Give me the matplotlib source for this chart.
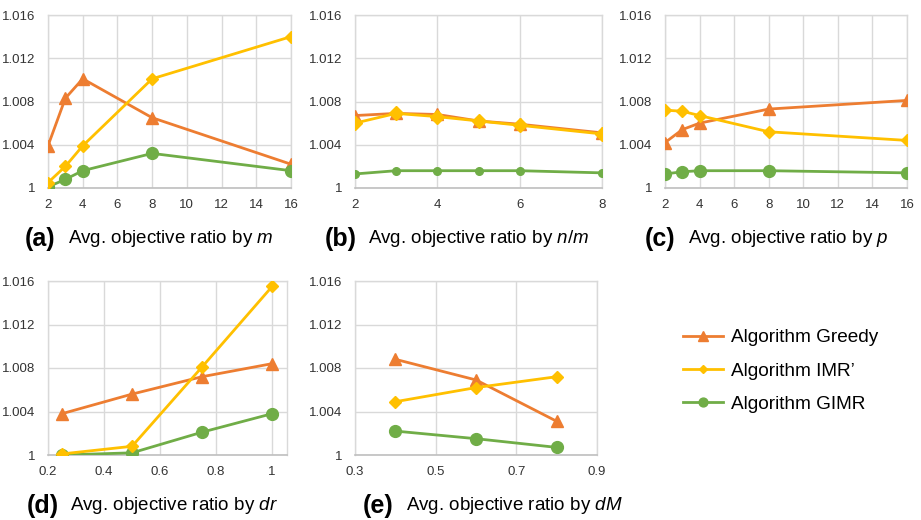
import matplotlib
matplotlib.use("Agg")
import matplotlib.pyplot as plt
from matplotlib.ticker import FuncFormatter

plt.rcParams['font.family'] = ['Liberation Sans', 'DejaVu Sans']
plt.rcParams['mathtext.fontset'] = 'custom'
plt.rcParams['mathtext.rm'] = 'Liberation Sans'
plt.rcParams['mathtext.it'] = 'Liberation Sans:italic'

# colours of the three algorithms
c_greedy = '#ED7D31'
c_imr = '#FFC000'
c_gimr = '#70AD47'
grid_col = '#D9D9D9'

# (a) by m
x_a = [2, 3, 4, 8, 16]
greedy_a = [1.0039, 1.0083, 1.0101, 1.0065, 1.0022]
imr_a = [1.0005, 1.0020, 1.0039, 1.0101, 1.0140]
gimr_a = [1.0001, 1.0008, 1.0016, 1.0032, 1.0016]

# (b) by n/m
x_b = [2, 3, 4, 5, 6, 8]
greedy_b = [1.0067, 1.0069, 1.0068, 1.0062, 1.0059, 1.0051]
imr_b = [1.0060, 1.0069, 1.0066, 1.0062, 1.0058, 1.0050]
gimr_b = [1.0013, 1.0016, 1.0016, 1.0016, 1.0016, 1.0014]

# (c) by p
x_c = [2, 3, 4, 8, 16]
greedy_c = [1.0042, 1.0054, 1.0060, 1.0073, 1.0081]
imr_c = [1.0072, 1.0071, 1.0067, 1.0052, 1.0044]
gimr_c = [1.0013, 1.0015, 1.0016, 1.0016, 1.0014]

# (d) by dr
x_d = [0.25, 0.5, 0.75, 1.0]
greedy_d = [1.0038, 1.0056, 1.0072, 1.0084]
imr_d = [1.0001, 1.0008, 1.0081, 1.0155]
gimr_d = [1.0000, 1.0002, 1.0021, 1.0038]

# (e) by dM
x_e = [0.4, 0.6, 0.8]
greedy_e = [1.0088, 1.0069, 1.0031]
imr_e = [1.0049, 1.0062, 1.0072]
gimr_e = [1.0022, 1.0015, 1.0007]

y_ticks = [1.0, 1.004, 1.008, 1.012, 1.016]

panels = [
    # rect (px: left, bottom, w, h), x, series, xlim, xticks, letter, var, caption x, small markers
    ([48, 188, 243, 173], x_a, (greedy_a, imr_a, gimr_a), (2, 16), [2, 4, 6, 8, 10, 12, 14, 16], '(a)', 'm', 25, False),
    ([355, 188, 247, 173], x_b, (greedy_b, imr_b, gimr_b), (2, 8), [2, 4, 6, 8], '(b)', 'n/m', 325, True),
    ([665, 188, 242, 173], x_c, (greedy_c, imr_c, gimr_c), (2, 16), [2, 4, 6, 8, 10, 12, 14, 16], '(c)', 'p', 645, False),
    ([48, 455, 239, 174], x_d, (greedy_d, imr_d, gimr_d), (0.2, 1.053), [0.2, 0.4, 0.6, 0.8, 1.0], '(d)', 'dr', 27, False),
    ([355, 455, 242, 174], x_e, (greedy_e, imr_e, gimr_e), (0.3, 0.9), [0.3, 0.5, 0.7, 0.9], '(e)', 'dM', 363, False),
]

W, H = 921, 520
fig = plt.figure(figsize=(W / 100, H / 100), dpi=100)


def fmt_y(v, pos):
    return '1' if abs(v - 1) < 1e-9 else '%.3f' % v


def fmt_x(v, pos):
    if abs(v - round(v)) < 1e-9:
        return '%d' % round(v)
    return '%g' % v


handles = None
for rect, xs, series, xlim, xticks, letter, var, cap_x, small in panels:
    l, b, w, h = rect
    ax = fig.add_axes([l / W, 1 - b / H, w / W, h / H])
    greedy, imr, gimr = series
    if small:
        ms_t, ms_d, ms_o = 8, 7, 5.5
    else:
        ms_t, ms_d, ms_o = 9, 6, 8.5
    h1, = ax.plot(xs, greedy, color=c_greedy, lw=2, marker='^', ms=ms_t, zorder=3)
    h2, = ax.plot(xs, imr, color=c_imr, lw=2, marker='D', ms=ms_d, zorder=4)
    h3, = ax.plot(xs, gimr, color=c_gimr, lw=2, marker='o', ms=ms_o, zorder=3)
    if handles is None:
        handles = [h1, h2, h3]
    ax.set_xlim(*xlim)
    ax.set_ylim(1.0, 1.016)
    ax.set_xticks(xticks)
    ax.set_yticks(y_ticks)
    ax.yaxis.set_major_formatter(FuncFormatter(fmt_y))
    ax.xaxis.set_major_formatter(FuncFormatter(fmt_x))
    ax.grid(True, color=grid_col, lw=1)
    ax.set_axisbelow(True)
    for sp in ['top', 'right', 'left']:
        ax.spines[sp].set_color(grid_col)
        ax.spines[sp].set_linewidth(1)
    ax.spines['bottom'].set_color('#BFBFBF')
    ax.spines['bottom'].set_linewidth(1.2)
    ax.tick_params(length=0, labelsize=9.5, labelcolor='#333333')
    ax.tick_params(axis='y', pad=9)
    ax.tick_params(axis='x', pad=8)

    cap_y = 1 - (b + 51) / H
    fig.text(cap_x / W, cap_y, letter, fontsize=18, fontweight='bold', va='center', ha='left')
    fig.text((cap_x + 43) / W, cap_y, 'Avg. objective ratio by $\\mathit{%s}$' % var,
             fontsize=13.5, va='center', ha='left')

fig.legend(handles, ['Algorithm Greedy', "Algorithm IMR\u2019", 'Algorithm GIMR'],
           loc='center left', bbox_to_anchor=(666 / W, 1 - 371 / H), frameon=False,
           fontsize=13.7, handlelength=2.1, labelspacing=0.85, handletextpad=0.4,
           markerscale=0.75)

fig.savefig('out.png', dpi=100)
